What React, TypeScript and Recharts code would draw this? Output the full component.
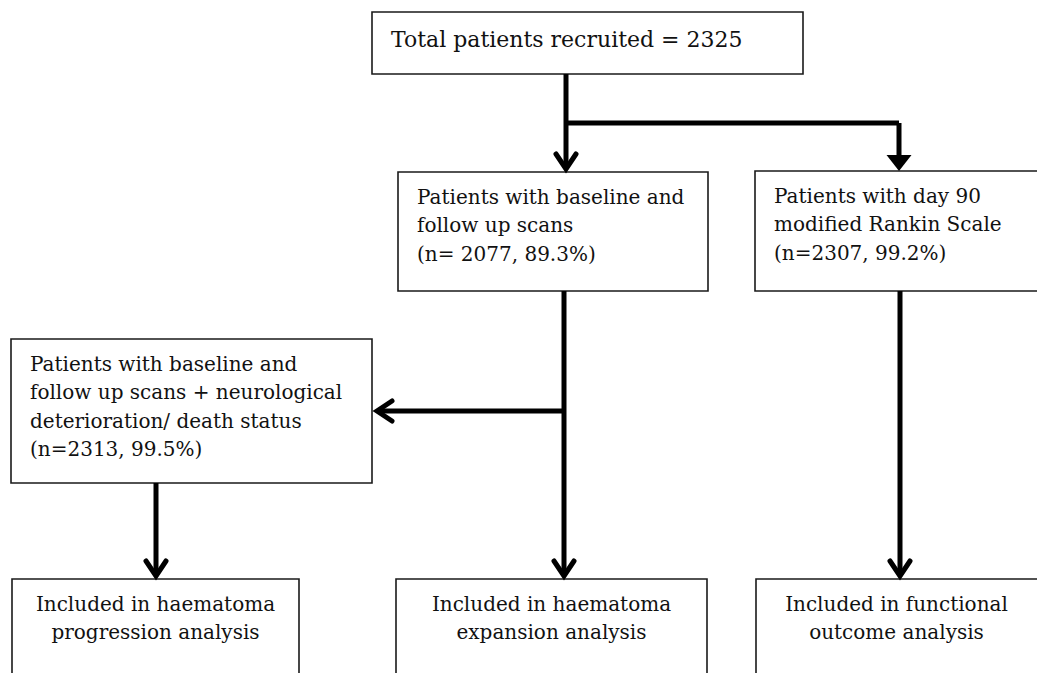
import React from 'react'
import { ScatterChart, Scatter, XAxis, YAxis, ReferenceArea, ReferenceLine } from 'recharts'

const W = 1037
const H = 673

// flowchart nodes (chart units = pixels, y grows downwards)
const nodeLines: string[][] = [
  ['Total patients recruited = 2325'],
  ['Patients with baseline and', 'follow up scans', '(n= 2077, 89.3%)'],
  ['Patients with day 90', 'modified Rankin Scale', '(n=2307, 99.2%)'],
  ['Patients with baseline and', 'follow up scans + neurological', 'deterioration/ death status', '(n=2313, 99.5%)'],
  ['Included in haematoma', 'progression analysis'],
  ['Included in haematoma', 'expansion analysis'],
  ['Included in functional', 'outcome analysis'],
]
const nodeX1 = [372, 398, 755, 11, 12, 396, 756]
const nodeX2 = [803, 708, 1060, 372, 299, 707, 1060]
const nodeY1 = [12, 172, 171, 339, 579, 579, 579]
const nodeY2 = [74, 291, 291, 483, 700, 700, 700]
const nodeCentered = [false, false, false, false, true, true, true]

// connectors
const linkFrom = [[566, 74], [566, 123], [899, 123], [564, 291], [564, 411], [156, 483], [900, 291]]
const linkTo = [[566, 166], [899, 123], [899, 158], [564, 574], [378, 411], [156, 574], [900, 574]]

// arrow heads
const heads = [
  { x: 566, y: 171, kind: 'down' },
  { x: 899, y: 171, kind: 'solid' },
  { x: 564, y: 578, kind: 'down' },
  { x: 375, y: 411, kind: 'left' },
  { x: 156, y: 578, kind: 'down' },
  { x: 900, y: 578, kind: 'down' },
]

const FONT = '"DejaVu Serif", serif'

function nodeText(i: number) {
  return (props: any) => {
    const vb = props.viewBox || {}
    const big = i === 0
    const size = big ? 22 : 20
    const firstBase = big ? 35 : 32
    const centered = nodeCentered[i]
    const x = centered ? vb.x + (Math.min(vb.x + vb.width, W) - vb.x) / 2 : vb.x + 19
    return (
      <text x={x} y={vb.y + firstBase} fontFamily={FONT} fontSize={size} fill="#111"
        textAnchor={centered ? 'middle' : 'start'}>
        {nodeLines[i].map((ln, k) => (
          <tspan key={k} x={x} dy={k === 0 ? 0 : 28.4}>{ln}</tspan>
        ))}
      </text>
    )
  }
}

function Head(props: any) {
  const { cx, cy, payload } = props
  if (payload.kind === 'solid') {
    return <path d={`M${cx - 12.5},${cy - 16} L${cx + 12.5},${cy - 16} L${cx},${cy} Z`} fill="#000" />
  }
  if (payload.kind === 'left') {
    return <path d={`M${cx + 17},${cy - 10} L${cx + 2},${cy} L${cx + 17},${cy + 10}`}
      fill="none" stroke="#000" strokeWidth={5} strokeLinecap="round" strokeLinejoin="miter" />
  }
  return <path d={`M${cx - 10},${cy - 17} L${cx},${cy - 2} L${cx + 10},${cy - 17}`}
    fill="none" stroke="#000" strokeWidth={5} strokeLinecap="round" strokeLinejoin="miter" />
}

export default function App() {
  return (
    <div style={{ position: 'absolute', left: 0, top: 0, width: W, height: H, background: '#fff' }}>
      <ScatterChart width={W} height={H} margin={{ top: 0, right: 0, bottom: 0, left: 0 }}>
        <XAxis type="number" dataKey="x" domain={[0, W]} hide />
        <YAxis type="number" dataKey="y" domain={[0, H]} reversed hide width={0} />

        {linkFrom.map((f, i) => (
          <ReferenceLine key={`l${i}`} segment={[{ x: f[0], y: f[1] }, { x: linkTo[i][0], y: linkTo[i][1] }]}
            stroke="#000" strokeWidth={5} ifOverflow="visible" />
        ))}

        {nodeLines.map((_, i) => (
          <ReferenceArea key={`n${i}`} x1={nodeX1[i]} x2={nodeX2[i]} y1={nodeY1[i]} y2={nodeY2[i]}
            fill="#fff" fillOpacity={1} stroke="#1a1a1a" strokeWidth={1.6} ifOverflow="visible"
            label={nodeText(i)} />
        ))}

        <Scatter data={heads} shape={<Head />} isAnimationActive={false} />
      </ScatterChart>
    </div>
  )
}
